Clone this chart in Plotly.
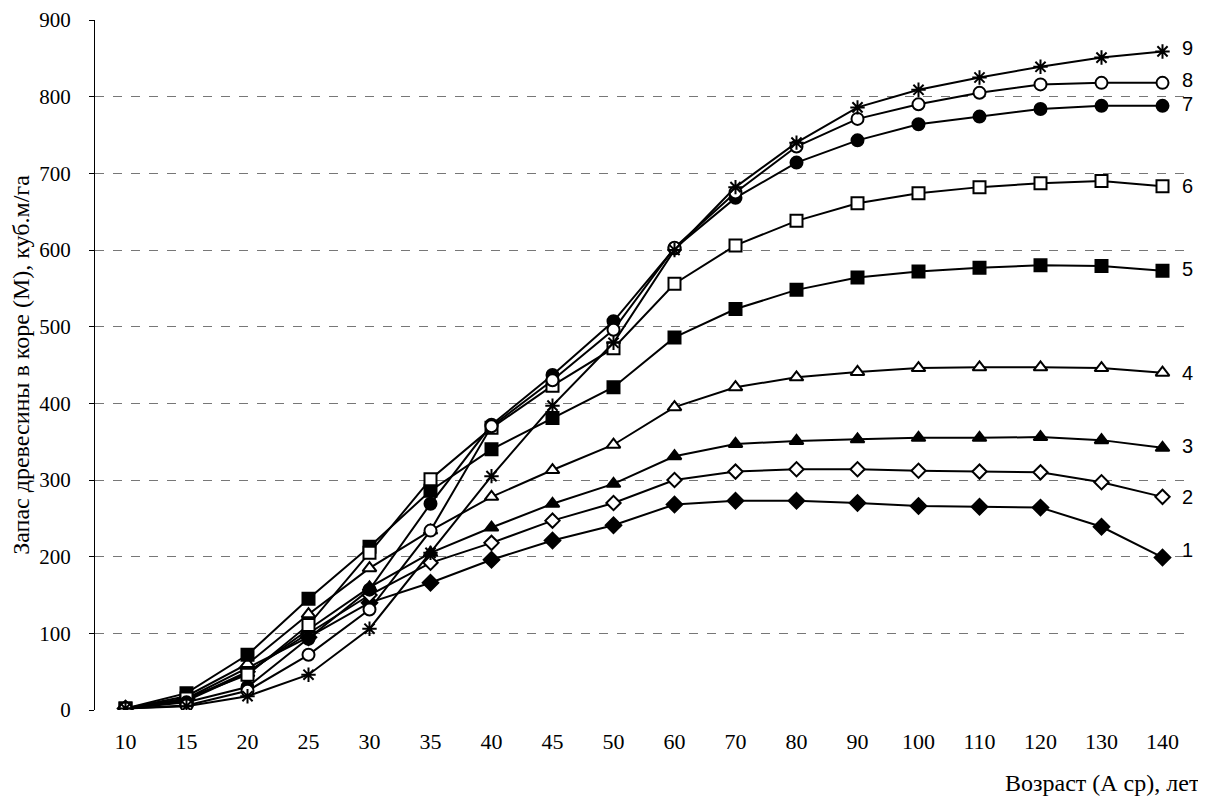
import plotly.graph_objects as go

# Возраст (категории оси X)
ages = ["10", "15", "20", "25", "30", "35", "40", "45", "50",
        "60", "70", "80", "90", "100", "110", "120", "130", "140"]

# Запас древесины по кривым 1..9, куб.м/га
s1 = [2, 15, 55, 95, 140, 166, 196, 221, 241, 268, 273, 273, 270, 266, 265, 264, 239, 199]
s2 = [2, 13, 50, 100, 150, 192, 218, 247, 270, 300, 311, 314, 314, 312, 311, 310, 297, 278]
s3 = [2, 12, 48, 105, 160, 205, 238, 269, 295, 331, 347, 351, 353, 355, 355, 356, 352, 342]
s4 = [2, 18, 60, 125, 185, 234, 278, 313, 346, 395, 421, 434, 441, 446, 447, 447, 446, 440]
s5 = [2, 22, 72, 145, 213, 286, 340, 381, 421, 486, 523, 548, 564, 572, 577, 580, 579, 573]
s6 = [2, 15, 46, 111, 205, 301, 368, 423, 472, 556, 606, 638, 661, 674, 682, 687, 690, 683]
s7 = [2, 10, 30, 93, 157, 269, 372, 437, 507, 602, 668, 714, 743, 764, 774, 784, 788, 788]
s8 = [2, 6, 25, 72, 131, 234, 370, 430, 496, 603, 675, 735, 771, 790, 805, 816, 818, 818]
s9 = [2, 5, 18, 46, 106, 205, 305, 397, 479, 600, 682, 740, 786, 809, 825, 839, 851, 859]

series = [s1, s2, s3, s4, s5, s6, s7, s8, s9]
labels = ["1", "2", "3", "4", "5", "6", "7", "8", "9"]

# маркеры: (символ, заливка, размер)
markers = [
    ("diamond", "black", 12),
    ("diamond", "white", 11),
    ("triangle-up", "black", 12),
    ("triangle-up", "white", 12),
    ("square", "black", 12),
    ("square", "white", 12),
    ("circle", "black", 12),
    ("circle", "white", 12),
    ("asterisk-open", "black", 12),
]
label_shift = [10, 0, 2, 0, 2, 0, 2, 4, 5]

fig = go.Figure()

for vals, name, (sym, fill, size) in zip(series, labels, markers):
    fig.add_trace(go.Scatter(
        x=ages, y=vals, mode="lines+markers", name=name,
        line=dict(color="black", width=2),
        marker=dict(symbol=sym, color=fill, size=size,
                    line=dict(color="black", width=2)),
        showlegend=False
    ))

# подписи номеров кривых справа
for vals, name, dy in zip(series, labels, label_shift):
    fig.add_annotation(
        x=len(ages) - 1, y=vals[-1] + dy, text=name, showarrow=False,
        xshift=25, font=dict(family="Liberation Sans", size=20, color="black")
    )

fig.add_annotation(
    xref="paper", yref="paper", x=0.827, y=-0.106,
    xanchor="left", yanchor="middle", showarrow=False,
    text="Возраст (А ср), лет",
    font=dict(family="Liberation Serif", size=24, color="black")
)

fig.update_layout(
    width=1198, height=794,
    margin=dict(l=87, r=13, t=12, b=92),
    paper_bgcolor="white", plot_bgcolor="white",
    font=dict(family="Liberation Serif", size=20, color="black"),
)
fig.update_xaxes(
    type="category", range=[-0.5, 17.5],
    showgrid=False, zeroline=False, showline=False,
    ticks="", ticklabelstandoff=16,
    tickfont=dict(family="Liberation Serif", size=22)
)
fig.update_yaxes(
    range=[0, 900], dtick=100,
    showgrid=True, gridcolor="#777777", griddash="dash", gridwidth=1,
    zeroline=False, showline=True, linecolor="black", linewidth=1,
    ticks="outside", ticklen=5, tickcolor="black", ticklabelstandoff=14,
    ticklabeloverflow="allow", automargin=False,
    tickfont=dict(family="Liberation Serif", size=21),
    title=dict(text="Запас древесины в коре (М), куб.м/га", standoff=5,
               font=dict(family="Liberation Serif", size=24, color="black"))
)

fig.write_html("out.html")
